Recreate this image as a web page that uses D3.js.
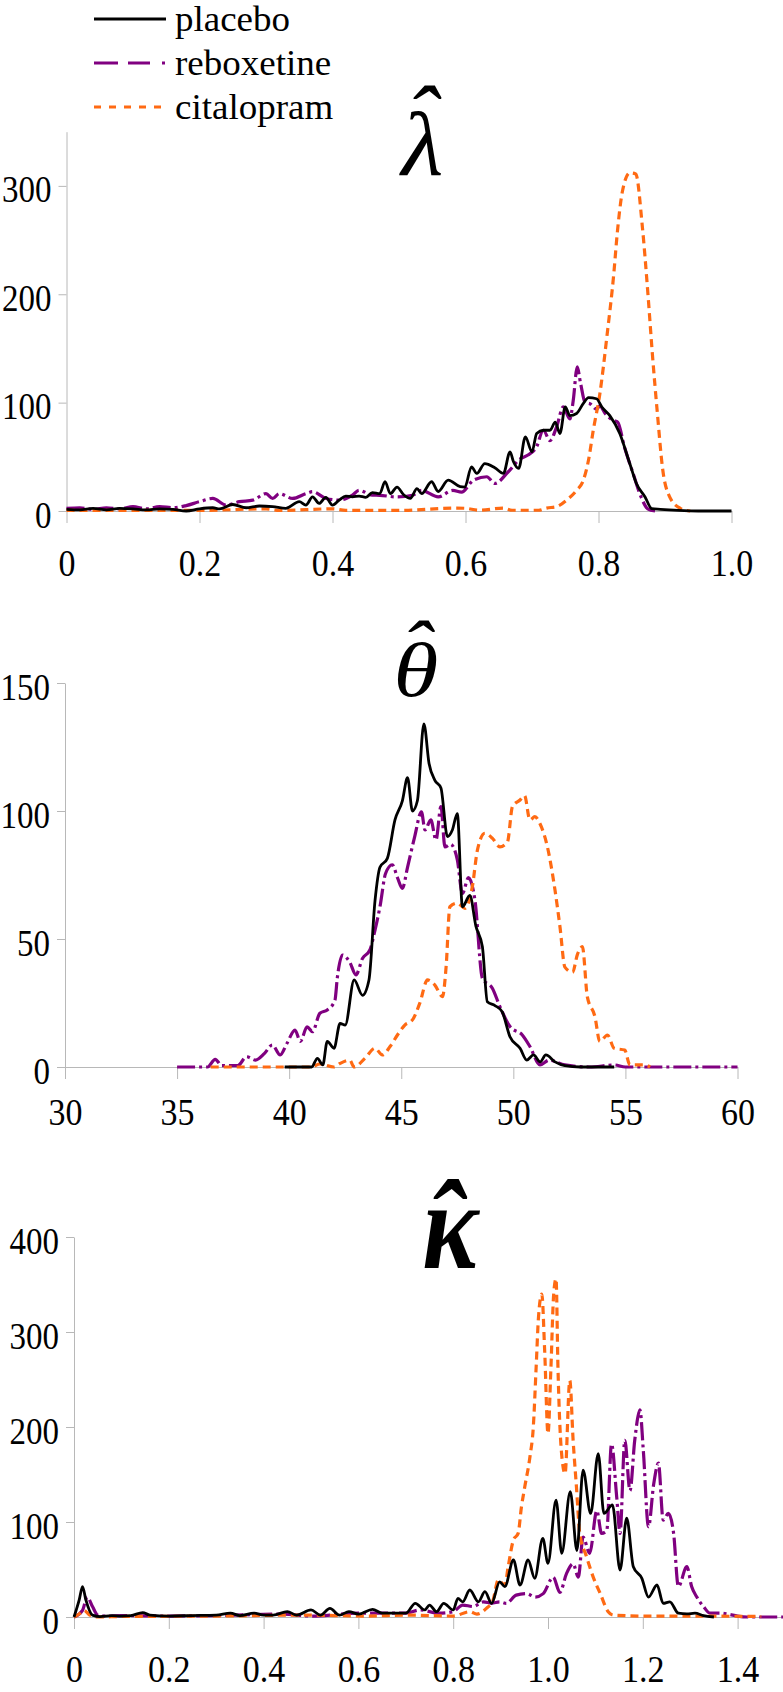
<!DOCTYPE html>
<html><head><meta charset="utf-8">
<script src="https://cdn.jsdelivr.net/npm/d3@7/dist/d3.min.js"></script>
<style>body{margin:0;background:#fff}svg{display:block}</style>
</head><body>
<svg id="chart" width="783" height="1692"></svg>
<script>
// ---------------- data ----------------
const seriesNames = ["placebo", "reboxetine", "citalopram"];

const lambdaXTicks = [0, 0.2, 0.4, 0.6, 0.8, 1.0];
const lambdaYTicks = [0, 100, 200, 300];
const thetaXTicks = [30, 35, 40, 45, 50, 55, 60];
const thetaYTicks = [0, 50, 100, 150];
const kappaXTicks = [0, 0.2, 0.4, 0.6, 0.8, 1.0, 1.2, 1.4];
const kappaYTicks = [0, 100, 200, 300, 400];

const lambdaPlacebo = [[0,1.5],[0.02,1],[0.04,2.5],[0.06,1],[0.08,2.5],[0.1,2],[0.12,1],[0.14,2],[0.16,1.5],[0.18,0],[0.2,2],[0.22,3],[0.23,2],[0.25,6],[0.27,3],[0.29,4.6],[0.31,4],[0.33,2.5],[0.35,8.6],[0.36,5.5],[0.37,13],[0.38,7],[0.39,12.6],[0.4,5.5],[0.41,10],[0.42,13.8],[0.43,13],[0.44,13.8],[0.45,12.6],[0.46,17],[0.471,16],[0.479,27],[0.487,16],[0.497,22],[0.507,15],[0.517,11.6],[0.527,20.7],[0.534,16],[0.549,27],[0.559,18],[0.574,28.5],[0.592,22.4],[0.599,22],[0.609,40.8],[0.617,34.7],[0.629,43.8],[0.644,40],[0.657,34.7],[0.667,54.6],[0.672,45.7],[0.68,39.3],[0.69,68.4],[0.7,54.6],[0.707,71.5],[0.717,74.5],[0.727,74.5],[0.735,82],[0.742,71.5],[0.75,96],[0.757,88],[0.767,90],[0.777,99],[0.785,104.6],[0.797,103.6],[0.805,96],[0.817,88],[0.832,71.5],[0.847,43.8],[0.857,25.4],[0.87,13],[0.88,2.2],[0.893,1.5],[0.92,0.5],[0.95,0],[1,0]];
const lambdaReboxetine = [[0,2.5],[0.02,3],[0.04,1.5],[0.06,3],[0.08,2],[0.1,4],[0.12,2],[0.14,4],[0.16,3],[0.18,5],[0.2,8.6],[0.22,11.6],[0.24,5.5],[0.26,8.6],[0.28,10],[0.3,16],[0.31,11.6],[0.32,16],[0.34,11.6],[0.36,16],[0.37,17.8],[0.39,11.6],[0.41,10],[0.43,14.7],[0.44,19],[0.46,14.7],[0.471,14.5],[0.497,13],[0.52,14.5],[0.534,19],[0.559,13],[0.581,19],[0.594,17.5],[0.612,28.5],[0.632,31.6],[0.644,25.4],[0.664,36],[0.682,48],[0.694,51.7],[0.707,59.4],[0.717,74.5],[0.727,65],[0.737,77.6],[0.747,96],[0.757,85],[0.762,102],[0.768,133],[0.773,118],[0.78,100],[0.787,99],[0.797,94],[0.802,97],[0.81,90],[0.822,83.7],[0.829,82],[0.839,59],[0.852,34.7],[0.864,13],[0.874,2],[0.885,0]];
const lambdaCitalopram = [[0,0.5],[0.1,0.5],[0.2,0.5],[0.3,2],[0.32,0.5],[0.4,2],[0.42,0.5],[0.5,0.5],[0.587,2.7],[0.6,2.5],[0.62,0.7],[0.657,2.7],[0.67,0.7],[0.71,0.7],[0.722,2.7],[0.737,4],[0.752,10],[0.767,19],[0.777,28],[0.785,47],[0.792,74],[0.802,108],[0.813,163],[0.823,219],[0.828,255],[0.836,295],[0.847,312],[0.856,311],[0.866,262],[0.874,203],[0.881,145],[0.889,87],[0.896,41],[0.907,13],[0.923,2.5],[0.938,0]];

const thetaPlacebo = [[39.8,0],[41,0],[41.26,3.4],[41.5,0.8],[41.7,10],[42,7.3],[42.27,17],[42.5,16.4],[42.9,34],[43.27,28],[43.56,34],[43.83,65],[44.05,78],[44.38,81.5],[44.72,96.5],[45.05,104],[45.28,113],[45.5,100],[45.72,104],[46.01,134],[46.24,118.6],[46.5,112],[46.77,109],[47.06,90],[47.28,92.6],[47.5,99],[47.73,62.6],[48.06,67],[48.33,55],[48.62,47],[48.84,25.5],[49.18,24],[49.5,21.6],[49.85,11.8],[50.3,7.3],[50.6,2.7],[50.9,4.7],[51.2,2],[51.45,4.7],[51.86,2],[52.3,0.5],[53,0],[54.5,0]];
const thetaReboxetine = [[35,0],[36.36,0],[36.7,3],[37,0.5],[37.7,0.5],[38.1,4],[38.5,2.7],[38.9,5.3],[39.25,8.6],[39.6,4.7],[39.9,9.2],[40.26,14.4],[40.5,10],[40.8,15.7],[41.04,13.8],[41.37,21],[41.7,22.3],[42.04,26],[42.15,35],[42.38,43.75],[42.7,41],[42.98,36],[43.27,42.4],[43.6,45.7],[43.83,53.5],[44.05,62.6],[44.3,75.6],[44.6,79],[44.83,74],[45.05,69.8],[45.28,78],[45.6,90],[45.9,99.7],[46.06,92.6],[46.32,96.5],[46.55,88.7],[46.77,101.7],[46.95,86],[47.2,87],[47.5,81],[47.73,67.8],[48,74],[48.29,65],[48.62,34.6],[49.07,30.7],[49.4,23.6],[49.85,15.8],[50.4,12.5],[50.74,8],[51.19,0.8],[51.6,2.7],[52.3,0.8],[53.4,0],[54.5,0.8],[55,0],[60,0]];
const thetaCitalopram = [[36.5,0],[41,0],[41.37,1.2],[42,0],[42.27,1.4],[42.7,2.7],[42.9,0],[43.38,3.4],[43.83,7.3],[44.16,4.7],[44.5,8],[44.83,12.5],[45.16,16.4],[45.5,18.4],[45.83,25],[46.17,34],[46.5,32],[46.84,27.5],[47,39],[47.17,62.6],[47.5,64],[47.84,62],[48.17,70.4],[48.4,84.8],[48.73,91.3],[49.07,89.3],[49.4,86],[49.74,88],[49.96,101.7],[50.3,104.3],[50.5,106],[50.74,96.5],[50.96,97.8],[51.19,95],[51.52,86],[51.86,69],[52.08,54.8],[52.3,39],[52.64,37],[52.86,44],[53.08,47],[53.3,27.5],[53.64,19.7],[53.86,10],[54.2,12.5],[54.5,7.3],[54.97,6.6],[55.2,0.8],[55.87,0.8],[56.1,0]];

const kappaPlacebo = [[0,0],[0.011,18],[0.018,32],[0.025,18],[0.039,2],[0.055,0.5],[0.08,1.5],[0.1,1],[0.12,1.5],[0.145,4.6],[0.16,2],[0.2,1],[0.25,1.5],[0.3,2],[0.33,4],[0.35,1.5],[0.38,4],[0.4,2],[0.42,2],[0.45,5.6],[0.47,2],[0.5,7.4],[0.52,2],[0.54,9],[0.56,2],[0.58,5.6],[0.6,3],[0.63,8],[0.65,4],[0.7,4],[0.72,14.4],[0.74,7.4],[0.75,12.6],[0.765,5.6],[0.78,14.4],[0.8,7.4],[0.81,19.6],[0.82,16],[0.835,28.4],[0.853,16],[0.867,26.7],[0.881,14.4],[0.898,37],[0.909,32],[0.927,60],[0.941,33.7],[0.958,60],[0.972,40.7],[0.989,82.8],[1,56.5],[1.017,123],[1.029,67],[1.047,132],[1.061,70],[1.074,154.7],[1.09,109],[1.106,172],[1.118,109],[1.136,118],[1.152,49.5],[1.166,104],[1.18,53],[1.198,40.7],[1.212,21],[1.23,33.7],[1.243,14.4],[1.257,16],[1.275,4],[1.293,3.3],[1.31,4],[1.328,1.4],[1.35,0]];
const kappaReboxetine = [[0,0],[0.018,7],[0.028,21],[0.039,11],[0.05,2],[0.07,1],[0.1,1.5],[0.2,1],[0.3,1.5],[0.44,3],[0.5,1],[0.6,4],[0.7,4],[0.73,7.4],[0.77,4],[0.8,5.6],[0.82,12.6],[0.842,11],[0.864,16],[0.881,14.4],[0.898,16],[0.912,14.4],[0.933,23],[0.955,24.6],[0.973,21],[0.99,24.6],[1.011,42],[1.025,26],[1.039,45.6],[1.053,56],[1.064,42],[1.074,84],[1.088,67],[1.103,112],[1.113,88],[1.124,91],[1.134,182],[1.145,126],[1.152,88],[1.162,186],[1.173,133],[1.183,186],[1.194,218],[1.201,176],[1.212,95],[1.223,140],[1.233,162],[1.243,102],[1.254,109],[1.265,88],[1.275,32],[1.293,53],[1.303,32],[1.314,21],[1.328,11],[1.342,4],[1.363,4],[1.38,3],[1.4,1],[1.42,0],[1.5,0]];
const kappaCitalopram = [[0,0],[0.013,4],[0.021,7],[0.033,2],[0.05,0],[0.1,0.5],[0.3,1],[0.48,2],[0.62,1],[0.7,2],[0.8,1],[0.835,5.6],[0.85,3],[0.87,9],[0.884,17.5],[0.895,39],[0.909,33.7],[0.916,53],[0.927,81],[0.937,88],[0.944,116],[0.951,137],[0.962,169],[0.969,200],[0.975,263],[0.98,316],[0.987,340],[0.993,280],[1,193],[1.006,260],[1.012,340],[1.017,356],[1.021,263],[1.028,176],[1.036,151],[1.046,249],[1.053,186],[1.06,137],[1.067,88],[1.081,64],[1.095,42.5],[1.11,25],[1.127,5.6],[1.138,2],[1.2,1],[1.3,1],[1.45,0.5]];

// ---------------- layout ----------------
const svg = d3.select("#chart");
const FAMILY = "Liberation Serif";
const FONT = "'Liberation Serif','Times New Roman',serif";
const AXIS_COLOR = "#b8b8b8";
const styles = {
  placebo:    {color: "#000000", dash: null,        width: 2.8},
  reboxetine: {color: "#800080", dash: "18,4,3,4",  width: 3.2},
  citalopram: {color: "#ff6a13", dash: "8,5",       width: 3.2}
};
const drawOrder = ["reboxetine", "citalopram", "placebo"];

const panels = [
  {x: [0, 1], xr: [66.5, 731.5], y: [0, 350], yr: [511, 131.7], lab: 52,
   xt: lambdaXTicks, yt: lambdaYTicks, fmt: d => d === 0 ? "0" : d3.format(".1f")(d),
   data: {placebo: lambdaPlacebo, reboxetine: lambdaReboxetine, citalopram: lambdaCitalopram},
   title: {ch: "λ", cx: 420, base: 175, size: 92, weight: "normal", sx: 1.05, gap: 12, shift: 7}},
  {x: [30, 60], xr: [65, 737.5], y: [0, 150], yr: [1067, 683], lab: 45,
   xt: thetaXTicks, yt: thetaYTicks, fmt: d => String(d),
   data: {placebo: thetaPlacebo, reboxetine: thetaReboxetine, citalopram: thetaCitalopram},
   title: {ch: "θ", cx: 417, base: 696, size: 76, weight: "normal", sx: 1.2, gap: 10, shift: 4}},
  {x: [0, 1.5], xr: [74, 785], y: [0, 400], yr: [1617, 1237], lab: 52,
   xt: kappaXTicks, yt: kappaYTicks, fmt: d => d === 0 ? "0" : d3.format(".1f")(d),
   data: {placebo: kappaPlacebo, reboxetine: kappaReboxetine, citalopram: kappaCitalopram},
   title: {ch: "κ", cx: 452, base: 1268, size: 124, weight: "bold", sx: 0.85, gap: 11, shift: -2}}
];

// glyph ink measurement for placing the circumflex over the letter
const mctx = document.createElement("canvas").getContext("2d");
function measure(str, weight, size) {
  mctx.font = `italic ${weight} ${size}px "${FAMILY}"`;
  const m = mctx.measureText(str);
  return {w: m.width, l: m.actualBoundingBoxLeft, r: m.actualBoundingBoxRight,
          a: m.actualBoundingBoxAscent, d: m.actualBoundingBoxDescent};
}

panels.forEach(p => {
  const xs = d3.scaleLinear().domain(p.x).range(p.xr);
  const ys = d3.scaleLinear().domain(p.y).range(p.yr);
  const g = svg.append("g");

  const xa = g.append("g").attr("transform", `translate(0,${ys(0)})`)
    .call(d3.axisBottom(xs).tickValues(p.xt).tickFormat(p.fmt).tickSize(12).tickSizeOuter(0));
  const ya = g.append("g").attr("transform", `translate(${xs(p.x[0])},0)`)
    .call(d3.axisLeft(ys).tickValues(p.yt).tickSize(8).tickSizeOuter(0));

  [xa, ya].forEach(a => {
    a.attr("font-family", FONT);
    a.select(".domain").attr("stroke", AXIS_COLOR).attr("stroke-width", 1);
    a.selectAll(".tick line").attr("stroke", AXIS_COLOR).attr("stroke-width", 1);
    a.selectAll(".tick text").attr("fill", "#000").style("font-family", FONT)
      .attr("x", null).attr("y", null).attr("dy", null);
  });
  xa.selectAll(".tick text").attr("text-anchor", "middle").style("font-size", "34px")
    .attr("transform", `translate(0,${p.lab + 13}) scale(1,1.12)`);
  ya.selectAll(".tick text").attr("text-anchor", "end").style("font-size", "33px")
    .attr("transform", "translate(-15,16) scale(1,1.12)");

  const line = d3.line().x(d => xs(d[0])).y(d => ys(d[1])).curve(d3.curveMonotoneX);
  drawOrder.forEach(name => {
    const s = styles[name];
    g.append("path").datum(p.data[name]).attr("d", line)
      .attr("fill", "none").attr("stroke", s.color).attr("stroke-width", s.width)
      .attr("stroke-linejoin", "round")
      .attr("stroke-dasharray", s.dash);
  });

  // title: letter + circumflex as one text node, hat placed by per-character dx/dy
  const t = p.title;
  const L = measure(t.ch, t.weight, t.size);
  const H = measure("ˆ", t.weight, t.size);
  const x0 = t.cx - (L.r - L.l) / 2;
  const dxHat = t.cx + t.shift - (x0 + L.w) - (H.r - H.l) / 2;
  const dyHat = -L.a - t.gap - H.d;
  g.append("text")
    .attr("transform", `translate(${t.cx},0) scale(${t.sx},1) translate(${-t.cx},0)`)
    .attr("x", x0).attr("y", t.base)
    .attr("dx", `0 ${dxHat.toFixed(2)}`).attr("dy", `0 ${dyHat.toFixed(2)}`)
    .style("font-family", FONT).style("font-style", "italic").style("font-weight", t.weight)
    .style("font-size", t.size + "px").text(t.ch + "ˆ");
});

// ---------------- legend ----------------
const legendDash = {placebo: null, reboxetine: "24,10,22,12,3,40", citalopram: "7,8"};
const leg = svg.append("g");
seriesNames.forEach((name, i) => {
  const s = styles[name];
  const yLine = 19 + i * 44;
  leg.append("line").attr("x1", 94).attr("x2", 166).attr("y1", yLine).attr("y2", yLine)
    .attr("stroke", s.color).attr("stroke-width", 3).attr("stroke-dasharray", legendDash[name]);
  leg.append("text").attr("transform", `translate(175,${yLine + 12}) scale(1,0.95)`)
    .style("font-family", FONT).style("font-size", "37px").text(name);
});
</script>
</body></html>
